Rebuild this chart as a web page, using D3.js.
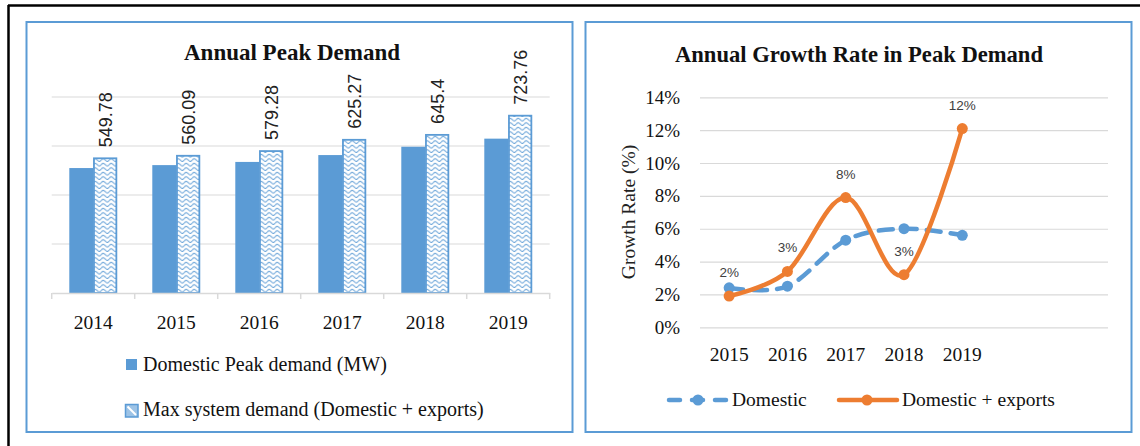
<!DOCTYPE html>
<html>
<head>
<meta charset="utf-8">
<script src="https://cdn.jsdelivr.net/npm/d3@7"></script>
<style>
  body { margin: 0; background: #fff; }
</style>
</head>
<body>
<div id="chart"></div>
<script>
// Data
const years = ["2014", "2015", "2016", "2017", "2018", "2019"];
const domesticPeak = [510, 522, 535, 563, 597, 630];
const maxSystem = [549.78, 560.09, 579.28, 625.27, 645.4, 723.76];
const barTicks = [0, 200, 400, 600, 800];

const growthYears = ["2015", "2016", "2017", "2018", "2019"];
const growthDomestic = [2.4, 2.5, 5.3, 6.0, 5.6];
const growthExports = [1.9, 3.4, 7.9, 3.2, 12.1];
const growthLabels = ["2%", "3%", "8%", "3%", "12%"];
const rateTicks = [0, 2, 4, 6, 8, 10, 12, 14];

(() => {
  const blue = "#5B9BD5";
  const orange = "#ED7D31";
  const grid = "#D9D9D9";
  const serif = "'Liberation Serif', 'Times New Roman', serif";
  const sans = "'Liberation Sans', Arial, sans-serif";

  const svg = d3.select("#chart").append("svg")
    .attr("width", 1140).attr("height", 446);

  // wave pattern for the max-demand bars
  const defs = svg.append("defs");
  const wave = defs.append("pattern")
    .attr("id", "wave")
    .attr("patternUnits", "userSpaceOnUse")
    .attr("width", 8).attr("height", 4.5);
  wave.append("rect").attr("width", 8).attr("height", 4.5).attr("fill", "#fff");
  wave.append("path")
    .attr("d", "M0,2.6 C2,0.6 2,0.6 4,2.6 C6,4.6 6,4.6 8,2.6")
    .attr("fill", "none").attr("stroke", blue).attr("stroke-width", 1);

  // outer black frame
  svg.append("line").attr("x1", 8).attr("x2", 1140).attr("y1", 5.5).attr("y2", 5.5)
    .attr("stroke", "#000").attr("stroke-width", 2.5);
  svg.append("line").attr("x1", 8.5).attr("x2", 8.5).attr("y1", 5).attr("y2", 446)
    .attr("stroke", "#000").attr("stroke-width", 2.5);

  // panel boxes
  [[26.5, 22, 546, 410], [585.5, 22, 546, 410]].forEach(([x, y, w, h]) => {
    svg.append("rect").attr("x", x).attr("y", y).attr("width", w).attr("height", h)
      .attr("fill", "#fff").attr("stroke", blue).attr("stroke-width", 2);
  });

  // ---------- Left: Annual Peak Demand ----------
  const left = svg.append("g");
  const x0 = d3.scaleBand().domain(years).range([51.7, 549.7])
    .paddingInner(0.424).paddingOuter(0.212);
  const xSub = d3.scaleBand().domain(["dom", "max"]).range([0, x0.bandwidth()]);
  const y0 = d3.scaleLinear().domain([0, 800]).range([293, 97]);

  left.append("text")
    .attr("x", 292).attr("y", 60).attr("text-anchor", "middle")
    .style("font-family", serif).style("font-weight", "bold").style("font-size", "23px")
    .attr("fill", "#111").text("Annual Peak Demand");

  left.append("g")
    .selectAll("line")
    .data(barTicks.slice(1))
    .join("line")
    .attr("x1", 51.7).attr("x2", 549.7)
    .attr("y1", (d) => y0(d)).attr("y2", (d) => y0(d))
    .attr("stroke", grid).attr("stroke-width", 1.2);

  const rows = years.map((yr, i) => ({ year: yr, dom: domesticPeak[i], max: maxSystem[i] }));

  const groups = left.selectAll(".bar-group")
    .data(rows)
    .join("g")
    .attr("class", "bar-group")
    .attr("transform", (d) => `translate(${x0(d.year)},0)`);

  groups.append("rect")
    .attr("x", xSub("dom")).attr("width", xSub.bandwidth())
    .attr("y", (d) => y0(d.dom)).attr("height", (d) => y0(0) - y0(d.dom))
    .attr("fill", blue);

  groups.append("rect")
    .attr("x", xSub("max") + 0.75).attr("width", xSub.bandwidth() - 1.5)
    .attr("y", (d) => y0(d.max)).attr("height", (d) => y0(0) - y0(d.max))
    .attr("fill", "url(#wave)").attr("stroke", blue).attr("stroke-width", 1.8);

  groups.append("text")
    .attr("transform", (d) =>
      `translate(${xSub("max") + xSub.bandwidth() / 2},${y0(d.max) - 11}) rotate(-90)`)
    .attr("dy", "0.36em")
    .attr("text-anchor", "start")
    .style("font-family", sans).style("font-size", "18px")
    .attr("fill", "#222")
    .text((d) => d.max);

  // x axis
  const xAxis = left.append("g")
    .attr("transform", `translate(0,${y0(0)})`)
    .call(d3.axisBottom(x0).tickSize(0).tickPadding(22));
  xAxis.select(".domain").attr("stroke", grid).attr("stroke-width", 1.5);
  xAxis.selectAll("text")
    .style("font-family", serif).style("font-size", "19.5px").attr("fill", "#111");
  // tick marks at category boundaries
  left.append("g")
    .selectAll("line")
    .data(years.concat(["end"]))
    .join("line")
    .attr("x1", (d, i) => i < years.length ? x0(d) - x0.step() * x0.paddingOuter() : 549.7)
    .attr("x2", (d, i) => i < years.length ? x0(d) - x0.step() * x0.paddingOuter() : 549.7)
    .attr("y1", y0(0)).attr("y2", y0(0) + 6)
    .attr("stroke", grid).attr("stroke-width", 1.5);

  // legend
  const lg = left.append("g");
  lg.append("rect").attr("x", 126).attr("y", 359).attr("width", 11).attr("height", 11).attr("fill", blue);
  lg.append("text").attr("x", 143).attr("y", 371)
    .style("font-family", serif).style("font-size", "20px").attr("fill", "#111")
    .text("Domestic Peak demand (MW)");
  lg.append("rect").attr("x", 125.5).attr("y", 404.5).attr("width", 12.5).attr("height", 12.5)
    .attr("fill", "#9DC3E6").attr("stroke", blue).attr("stroke-width", 1.5);
  lg.append("line").attr("x1", 127.5).attr("y1", 406.5).attr("x2", 136).attr("y2", 415)
    .attr("stroke", "#fff").attr("stroke-width", 2);
  lg.append("text").attr("x", 143).attr("y", 416)
    .style("font-family", serif).style("font-size", "20px").attr("fill", "#111")
    .text("Max system demand (Domestic + exports)");

  // ---------- Right: Annual Growth Rate ----------
  const right = svg.append("g");
  const slots = 7; // two empty categories after 2019
  const x1 = d3.scaleBand().domain(d3.range(slots)).range([700, 1108]);
  const xc = (i) => x1(i) + x1.bandwidth() / 2;
  const y1 = d3.scaleLinear().domain([0, 14]).range([327.3, 97.3]);

  right.append("text")
    .attr("x", 859).attr("y", 62).attr("text-anchor", "middle")
    .style("font-family", serif).style("font-weight", "bold").style("font-size", "22.6px")
    .attr("fill", "#111").text("Annual Growth Rate in Peak Demand");

  const yAxis = right.append("g")
    .attr("transform", "translate(700,0)")
    .call(d3.axisLeft(y1).tickValues(rateTicks).tickSize(-408).tickPadding(20)
      .tickFormat((d) => d + "%"));
  yAxis.select(".domain").remove();
  yAxis.selectAll("line").attr("stroke", grid).attr("stroke-width", 1.2);
  yAxis.selectAll("text")
    .style("font-family", serif).style("font-size", "19px").attr("fill", "#111");

  right.append("text")
    .attr("transform", "translate(628,212) rotate(-90)")
    .attr("dy", "0.36em").attr("text-anchor", "middle")
    .style("font-family", serif).style("font-size", "19.5px").attr("fill", "#222")
    .text("Growth Rate (%)");

  right.append("g")
    .selectAll("text")
    .data(growthYears)
    .join("text")
    .attr("x", (d, i) => xc(i)).attr("y", 361)
    .attr("text-anchor", "middle")
    .style("font-family", serif).style("font-size", "19.5px").attr("fill", "#111")
    .text((d) => d);

  const line = d3.line()
    .x((d, i) => xc(i)).y((d) => y1(d))
    .curve(d3.curveCardinal.tension(0));

  // domestic (dashed blue)
  right.append("path")
    .attr("d", line(growthDomestic))
    .attr("fill", "none").attr("stroke", blue).attr("stroke-width", 4.5)
    .attr("stroke-dasharray", "14,10").attr("stroke-linecap", "round");
  right.append("g").selectAll("circle")
    .data(growthDomestic).join("circle")
    .attr("cx", (d, i) => xc(i)).attr("cy", (d) => y1(d)).attr("r", 5.5)
    .attr("fill", blue);

  // domestic + exports (solid orange)
  right.append("path")
    .attr("d", line(growthExports))
    .attr("fill", "none").attr("stroke", orange).attr("stroke-width", 4.5)
    .attr("stroke-linecap", "round");
  right.append("g").selectAll("circle")
    .data(growthExports).join("circle")
    .attr("cx", (d, i) => xc(i)).attr("cy", (d) => y1(d)).attr("r", 5.5)
    .attr("fill", orange);

  right.append("g").selectAll("text")
    .data(growthExports).join("text")
    .attr("x", (d, i) => xc(i)).attr("y", (d) => y1(d) - 19)
    .attr("text-anchor", "middle")
    .style("font-family", sans).style("font-size", "13.5px").attr("fill", "#404040")
    .text((d, i) => growthLabels[i]);

  // legend
  const rl = right.append("g");
  rl.append("line").attr("x1", 669).attr("x2", 728).attr("y1", 400).attr("y2", 400)
    .attr("stroke", blue).attr("stroke-width", 4.5)
    .attr("stroke-dasharray", "11,12").attr("stroke-linecap", "round");
  rl.append("circle").attr("cx", 698).attr("cy", 400).attr("r", 5.5).attr("fill", blue);
  rl.append("text").attr("x", 732).attr("y", 406)
    .style("font-family", serif).style("font-size", "19.5px").attr("fill", "#111")
    .text("Domestic");
  rl.append("line").attr("x1", 839).attr("x2", 897).attr("y1", 400).attr("y2", 400)
    .attr("stroke", orange).attr("stroke-width", 4.5).attr("stroke-linecap", "round");
  rl.append("circle").attr("cx", 867).attr("cy", 400).attr("r", 5.5).attr("fill", orange);
  rl.append("text").attr("x", 902).attr("y", 406)
    .style("font-family", serif).style("font-size", "19.5px").attr("fill", "#111")
    .text("Domestic + exports");
})();
</script>
</body>
</html>
